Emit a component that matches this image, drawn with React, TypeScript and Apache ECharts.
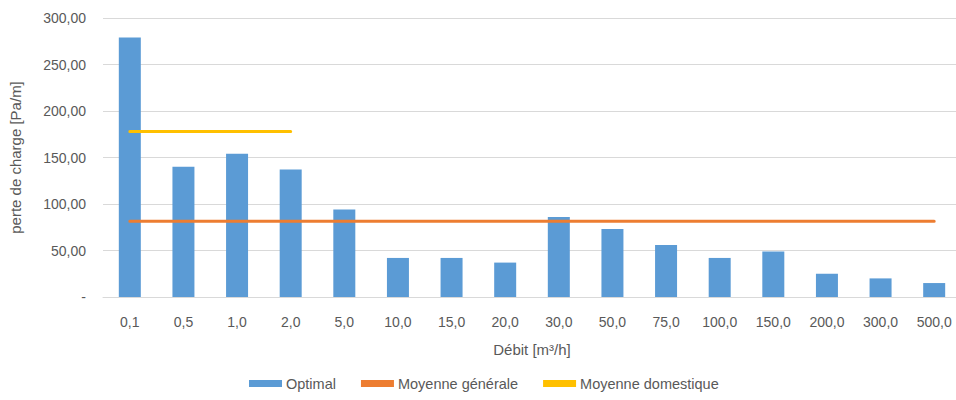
import React, { useEffect, useRef } from "react";
import * as echarts from "echarts";

const categories = ["0,1", "0,5", "1,0", "2,0", "5,0", "10,0", "15,0", "20,0", "30,0", "50,0", "75,0", "100,0", "150,0", "200,0", "300,0", "500,0"];
const optimal = [279, 140, 154, 137, 94, 42, 42, 37, 86, 73, 56, 42, 49, 25, 20, 15];
const moyenneGenerale = [81.5, 81.5, 81.5, 81.5, 81.5, 81.5, 81.5, 81.5, 81.5, 81.5, 81.5, 81.5, 81.5, 81.5, 81.5, 81.5];
const moyenneDomestique: (number | string)[] = [178, 178, 178, 178, "-", "-", "-", "-", "-", "-", "-", "-", "-", "-", "-", "-"];

const FONT = "Liberation Sans";
const TXT = "#595959";

export default function App() {
  const ref = useRef<HTMLDivElement>(null);
  useEffect(() => {
    const chart = echarts.init(ref.current!, undefined, { renderer: "svg" });
    chart.setOption({
      animation: false,
      textStyle: { fontFamily: FONT },
      grid: { left: 101, right: 1, top: 18, bottom: 103 },
      legend: {
        bottom: 4,
        left: 244,
        itemGap: 25,
        itemWidth: 33,
        itemHeight: 7,
        textStyle: { color: TXT, fontSize: 14.5, fontFamily: FONT, padding: [0, 0, 0, -1] },
        data: [
          { name: "Optimal", icon: "rect" },
          { name: "Moyenne générale", icon: "rect", itemStyle: { color: "#ED7D31" } },
          { name: "Moyenne domestique", icon: "rect", itemStyle: { color: "#FFC000" } },
        ],
      },
      xAxis: {
        type: "category",
        data: categories,
        name: "Débit [m³/h]",
        nameLocation: "middle",
        nameGap: 45,
        nameTextStyle: { color: TXT, fontSize: 15, fontFamily: FONT },
        axisLine: { lineStyle: { color: "#D9D9D9" } },
        axisTick: { show: false },
        axisLabel: { color: TXT, fontSize: 14, margin: 18, fontFamily: FONT },
      },
      yAxis: {
        type: "value",
        min: 0,
        max: 300,
        interval: 50,
        name: "perte de charge [Pa/m]",
        nameLocation: "middle",
        nameGap: 80,
        nameTextStyle: { color: TXT, fontSize: 15, fontFamily: FONT },
        axisLine: { show: false },
        axisTick: { show: false },
        splitLine: { lineStyle: { color: "#D9D9D9" } },
        axisLabel: {
          color: TXT,
          fontSize: 14,
          margin: 17,
          fontFamily: FONT,
          formatter: (v: number) => (v === 0 ? "-" : v.toFixed(2).replace(".", ",")),
        },
      },
      series: [
        {
          name: "Optimal",
          type: "bar",
          data: optimal,
          barWidth: 22,
          itemStyle: { color: "#5B9BD5" },
        },
        {
          name: "Moyenne générale",
          type: "line",
          data: moyenneGenerale,
          symbol: "none",
          lineStyle: { color: "#ED7D31", width: 3, cap: "round" },
          itemStyle: { color: "#ED7D31" },
        },
        {
          name: "Moyenne domestique",
          type: "line",
          data: moyenneDomestique,
          symbol: "none",
          lineStyle: { color: "#FFC000", width: 3, cap: "round" },
          itemStyle: { color: "#FFC000" },
        },
      ],
    });
    return () => chart.dispose();
  }, []);
  return (
    <div style={{ position: "fixed", left: 0, top: 0, width: 956, height: 400, overflow: "hidden", background: "#fff" }}>
      <div ref={ref} style={{ width: 962, height: 400 }} />
    </div>
  );
}
